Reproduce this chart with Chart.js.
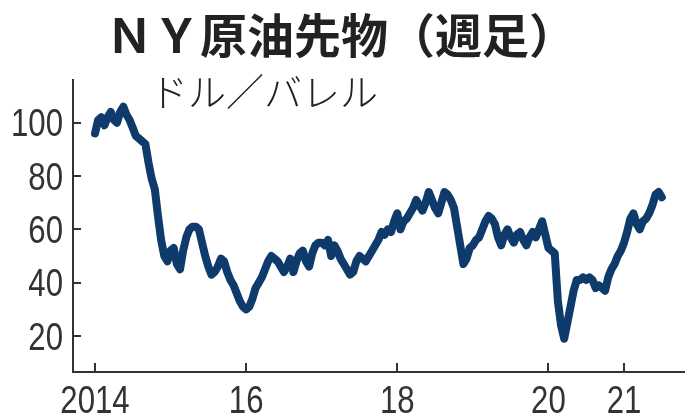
<!DOCTYPE html>
<html>
<head>
<meta charset="utf-8">
<script src="https://cdn.jsdelivr.net/npm/chart.js@4"></script>
<style>
  body { margin: 0; background: #fff; }
</style>
</head>
<body>
<canvas id="chart" width="685" height="416"></canvas>
<script>
// WTI weekly close, sampled twice a month from Jan 2014
const startYear = 2014;
const stepsPerYear = 24;
const prices2014 = [96,101,102,99,102,104,101,100,104,106,103,101,98,95,94,93,92,85,79,75,65,56,50,48];
const prices2015 = [52,53,47,45,52,57,60,61,61,60,55,50,46,43,44,46,49,48,44,41,39,36,33,31];
const prices2016 = [30,31,34,38,40,42,45,48,50,49,48,46,44,46,49,44,48,51,52,48,46,51,54,55];
const prices2017 = [55,54,56,50,54,52,49,47,45,43,44,48,50,49,48,50,52,54,56,59,58,60,59,63];
const prices2018 = [66,60,63,64,66,68,71,69,67,70,74,71,68,66,70,74,73,71,68,61,54,47,49,53];
const prices2019 = [54,56,57,60,63,65,64,62,57,54,58,60,57,55,58,59,56,54,57,59,57,60,63,58];
const prices2020 = [53,52,51,33,24,19,25,31,37,41,41,42,41,42,41,38,39,38,37,42,45,47,50,52];
const prices2021 = [55,59,64,66,62,60,63,64,66,69,73,74,72];

const yTicks = [20, 40, 60, 80, 100];
const xTicks = [2014, 2016, 2018, 2020, 2021];
const xTickLabels = ['2014', '16', '18', '20', '21'];
const titleText = 'ＮＹ原油先物（週足）';
const unitText = 'ドル／バレル';

const prices = [].concat(prices2014, prices2015, prices2016, prices2017,
                         prices2018, prices2019, prices2020, prices2021);
const points = prices.map((v, i) => ({ x: startYear + i / stepsPerYear, y: v }));

// no narrow font installed, so tick labels are squeezed by hand
const labelFont = '38px "Liberation Sans", Arial, sans-serif';
const squeeze = 0.82;

function narrowText(ctx, text, x, y, align) {
  ctx.save();
  ctx.translate(x, y);
  ctx.scale(squeeze, 1);
  ctx.textAlign = align;
  ctx.fillText(text, 0, 0);
  ctx.restore();
}

// inward tick marks, tick labels, title and unit text
const extras = {
  id: 'extras',
  afterDraw(c) {
    const ctx = c.ctx, xs = c.scales.x, ys = c.scales.y;
    ctx.save();
    ctx.strokeStyle = '#333';
    ctx.lineWidth = 2;
    ctx.beginPath();
    xTicks.forEach(t => {
      const px = Math.round(xs.getPixelForValue(t));
      ctx.moveTo(px, xs.top);
      ctx.lineTo(px, xs.top - 9);
    });
    yTicks.forEach(t => {
      const py = Math.round(ys.getPixelForValue(t));
      ctx.moveTo(ys.right, py);
      ctx.lineTo(ys.right + 8, py);
    });
    ctx.stroke();

    ctx.fillStyle = '#333';
    ctx.font = labelFont;
    ctx.textBaseline = 'alphabetic';
    xTicks.forEach((t, i) => {
      narrowText(ctx, xTickLabels[i], xs.getPixelForValue(t), xs.top + 41, 'center');
    });
    yTicks.forEach(t => {
      narrowText(ctx, String(t), ys.right - 10, ys.getPixelForValue(t) + 13.5, 'right');
    });

    ctx.fillStyle = '#222';
    ctx.textBaseline = 'middle';
    ctx.textAlign = 'center';
    ctx.font = 'bold 47px "Noto Sans CJK JP"';
    ctx.fillText(titleText, 341, 35);
    ctx.textAlign = 'left';
    ctx.font = '300 38px "Noto Sans CJK JP"';
    ctx.fillText(unitText, 150, 92);
    ctx.restore();
  }
};

new Chart(document.getElementById('chart'), {
  type: 'line',
  data: {
    datasets: [{
      data: points,
      borderColor: '#0e3a6c',
      borderWidth: 8,
      borderJoinStyle: 'round',
      borderCapStyle: 'round',
      pointRadius: 0,
      tension: 0
    }]
  },
  options: {
    responsive: false,
    animation: false,
    layout: { padding: { top: 80, left: 0, right: 0, bottom: 0 } },
    plugins: { legend: { display: false }, tooltip: { enabled: false } },
    scales: {
      x: {
        type: 'linear',
        min: 2013.709,
        max: 2021.807,
        afterBuildTicks: s => { s.ticks = xTicks.map(v => ({ value: v })); },
        afterFit: s => { s.height = 44; },
        grid: { display: false, drawTicks: false },
        border: { display: true, color: '#333', width: 2 },
        ticks: { display: false }
      },
      y: {
        min: 6.5,
        max: 116,
        afterBuildTicks: s => { s.ticks = yTicks.map(v => ({ value: v })); },
        afterFit: s => { s.width = 73; },
        grid: { display: false, drawTicks: false },
        border: { display: true, color: '#333', width: 2 },
        ticks: { display: false }
      }
    }
  },
  plugins: [extras]
});
</script>
</body>
</html>
